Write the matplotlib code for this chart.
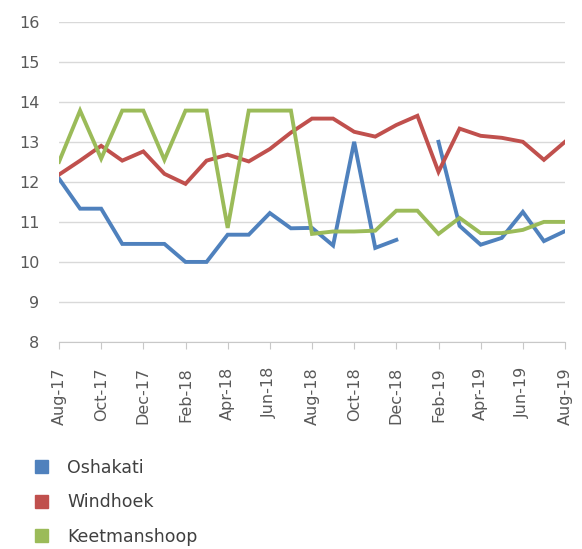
import matplotlib
matplotlib.use("Agg")
import matplotlib.pyplot as plt
from matplotlib.patches import Patch
import numpy as np

months = ["Aug-17", "Sep-17", "Oct-17", "Nov-17", "Dec-17", "Jan-18", "Feb-18", "Mar-18",
          "Apr-18", "May-18", "Jun-18", "Jul-18", "Aug-18", "Sep-18", "Oct-18", "Nov-18",
          "Dec-18", "Jan-19", "Feb-19", "Mar-19", "Apr-19", "May-19", "Jun-19", "Jul-19", "Aug-19"]

oshakati = [12.08, 11.33, 11.33, 10.45, 10.45, 10.45, 10.0, 10.0, 10.68, 10.68, 11.22, 10.84,
            10.85, 10.41, 13.0, 10.35, 10.55, None, 13.0, 10.9, 10.43, 10.6, 11.25, 10.52, 10.77]
windhoek = [12.18, 12.53, 12.9, 12.53, 12.76, 12.2, 11.95, 12.53, 12.68, 12.51, 12.82, 13.23,
            13.58, 13.58, 13.25, 13.13, 13.42, 13.65, 12.25, 13.33, 13.15, 13.1, 13.0, 12.55, 13.0]
keetmanshoop = [12.5, 13.78, 12.58, 13.78, 13.78, 12.55, 13.78, 13.78, 10.85, 13.78, 13.78, 13.78,
                10.7, 10.76, 10.76, 10.78, 11.28, 11.28, 10.7, 11.1, 10.72, 10.72, 10.8, 11.0, 11.0]

series = [("Oshakati", oshakati, "#4F81BD"),
          ("Windhoek", windhoek, "#C0504D"),
          ("Keetmanshoop", keetmanshoop, "#9BBB59")]

plt.rcParams['font.family'] = ['DejaVu Sans']

fig = plt.figure(figsize=(5.82, 5.49), dpi=100)
ax = fig.add_axes([59/582, 1 - 342/549, (565 - 59)/582, (342 - 21.7)/549])

x = np.arange(len(months))
for name, vals, col in series:
    y = np.array([np.nan if v is None else v for v in vals], dtype=float)
    ax.plot(x, y, color=col, lw=2.8, solid_joinstyle='miter', label=name)

ax.set_xlim(0, len(months) - 1)
ax.set_ylim(8, 16)
ax.set_yticks(range(8, 17))
ax.set_xticks(x[::2])
ax.set_xticklabels(months[::2], rotation=90)
ax.grid(axis='y', color='#D9D9D9', lw=1)
ax.set_axisbelow(True)
for s in ['left', 'right', 'top']:
    ax.spines[s].set_visible(False)
ax.spines['bottom'].set_color('#C8C8C8')
ax.tick_params(axis='y', length=0, labelsize=11.5, labelcolor='#595959', pad=14)
ax.tick_params(axis='x', length=5, color='#C8C8C8', labelsize=11.5, labelcolor='#595959', pad=13)

handles = [Patch(facecolor=c, edgecolor=c) for _, _, c in series]
fig.legend(handles, [n for n, _, _ in series], loc='upper left', bbox_to_anchor=(21/582, 1 - 445/549),
           frameon=False, fontsize=12.5, labelcolor='#404040', handlelength=0.75, handleheight=0.75,
           labelspacing=0.95, handletextpad=1.1, borderpad=0.3)

fig.savefig("out.png", dpi=100, facecolor='white')
